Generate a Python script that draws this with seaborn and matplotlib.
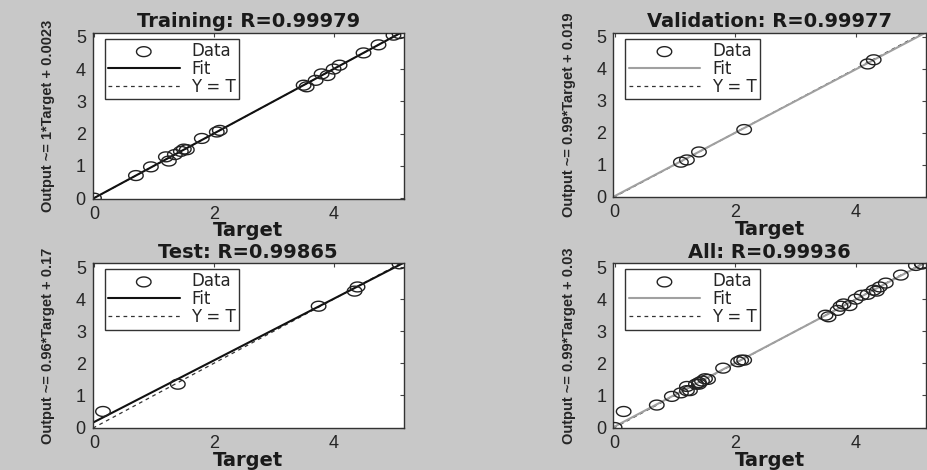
import matplotlib
matplotlib.use("Agg")
import matplotlib.pyplot as plt
from matplotlib.path import Path
import numpy as np
import pandas as pd
import seaborn as sns

# regression results (target, output)
train_t = [0.0, 0.7, 0.95, 1.2, 1.25, 1.35, 1.45, 1.5, 1.55, 1.8, 2.05, 2.1,
           3.5, 3.55, 3.7, 3.8, 3.9, 4.0, 4.1, 4.5, 4.75, 5.0, 5.1]
train_y = [0.0, 0.7, 0.97, 1.28, 1.15, 1.35, 1.45, 1.52, 1.5, 1.85, 2.05, 2.1,
           3.5, 3.45, 3.65, 3.85, 3.8, 4.0, 4.12, 4.5, 4.75, 5.05, 5.1]
val_t = [1.1, 1.2, 1.4, 2.15, 4.2, 4.3]
val_y = [1.08, 1.15, 1.4, 2.1, 4.15, 4.28]
test_t = [0.15, 1.4, 3.75, 4.35, 4.4, 5.1]
test_y = [0.5, 1.35, 3.78, 4.25, 4.38, 5.1]
all_t = train_t + val_t + test_t
all_y = train_y + val_y + test_y

titles = ["Training: R=0.99979", "Validation: R=0.99977",
          "Test: R=0.99865", "All: R=0.99936"]
ylabels = ["Output ~= 1*Target + 0.0023", "Output ~= 0.99*Target + 0.019",
           "Output ~= 0.96*Target + 0.17", "Output ~= 0.99*Target + 0.03"]
slopes = [1.0, 0.99, 0.96, 0.99]
offsets = [0.0023, 0.019, 0.17, 0.03]
fit_colors = ["#111111", "#a0a0a0", "#111111", "#a0a0a0"]
targets = [train_t, val_t, test_t, all_t]
outputs = [train_y, val_y, test_y, all_y]

sns.set_style("white")
plt.rcParams['font.family'] = ['Liberation Sans', 'DejaVu Sans']

# squashed circle marker (the source image is stretched sideways)
ang = np.linspace(0, 2 * np.pi, 40)
oval = Path(np.column_stack([np.cos(ang), 0.68 * np.sin(ang)]))

fig = plt.figure(figsize=(9.28, 4.70), dpi=100)
fig.patch.set_facecolor("#c8c8c8")

positions = [[0.100, 0.577, 0.335, 0.353],
             [0.661, 0.580, 0.337, 0.350],
             [0.100, 0.089, 0.335, 0.351],
             [0.661, 0.089, 0.337, 0.351]]

lo, hi = -0.02, 5.17
for i in range(4):
    ax = fig.add_axes(positions[i])
    ax.set_facecolor("white")
    df = pd.DataFrame({"Target": targets[i], "Output": outputs[i]})
    line_x = np.array([lo, hi])
    fit_df = pd.DataFrame({"x": line_x, "y": slopes[i] * line_x + offsets[i]})
    id_df = pd.DataFrame({"x": line_x, "y": line_x})
    sns.lineplot(data=fit_df, x="x", y="y", ax=ax, color=fit_colors[i],
                 linewidth=1.5, label="Fit", zorder=2)
    sns.lineplot(data=id_df, x="x", y="y", ax=ax, color="#333333",
                 linewidth=0.9, linestyle=(0, (3, 3)), label="Y = T", zorder=1)
    sns.scatterplot(data=df, x="Target", y="Output", ax=ax, marker=oval,
                    facecolor="none", edgecolor="#222222", linewidth=1.0,
                    s=110, label="Data", zorder=3)
    handles, labels = ax.get_legend_handles_labels()
    order = [labels.index("Data"), labels.index("Fit"), labels.index("Y = T")]
    leg = ax.legend([handles[k] for k in order], [labels[k] for k in order],
                    loc="upper left", handlelength=4.3,
                    prop={"family": "DejaVu Sans", "size": 12},
                    frameon=True, fancybox=False, borderpad=0.2,
                    labelspacing=0.0, handletextpad=0.7, borderaxespad=0,
                    bbox_to_anchor=(0.038, 0.965))
    leg.get_frame().set_edgecolor("black")
    leg.get_frame().set_linewidth(1.0)
    ax.set_xlim(lo, hi)
    ax.set_ylim(lo, 5.12)
    ax.set_xticks([0, 2, 4])
    ax.set_yticks([0, 1, 2, 3, 4, 5])
    ax.tick_params(direction="in", top=True, right=True, labelsize=13,
                   length=3, color="#444444", pad=5)
    for sp in ax.spines.values():
        sp.set_color("#333333")
        sp.set_linewidth(1.0)
    ax.set_title(titles[i], fontsize=14, fontweight="bold", pad=4,
                 family=["DejaVu Sans"], color="#1a1a1a")
    ax.set_xlabel("Target", fontsize=14, fontweight="bold", labelpad=-1,
                  family=["DejaVu Sans"], color="#1a1a1a")
    ax.set_ylabel(ylabels[i], fontsize=10.5, labelpad=15, fontweight="bold",
                  family=["Liberation Sans", "DejaVu Sans"])

fig.savefig("out.png", dpi=100, facecolor=fig.get_facecolor())
